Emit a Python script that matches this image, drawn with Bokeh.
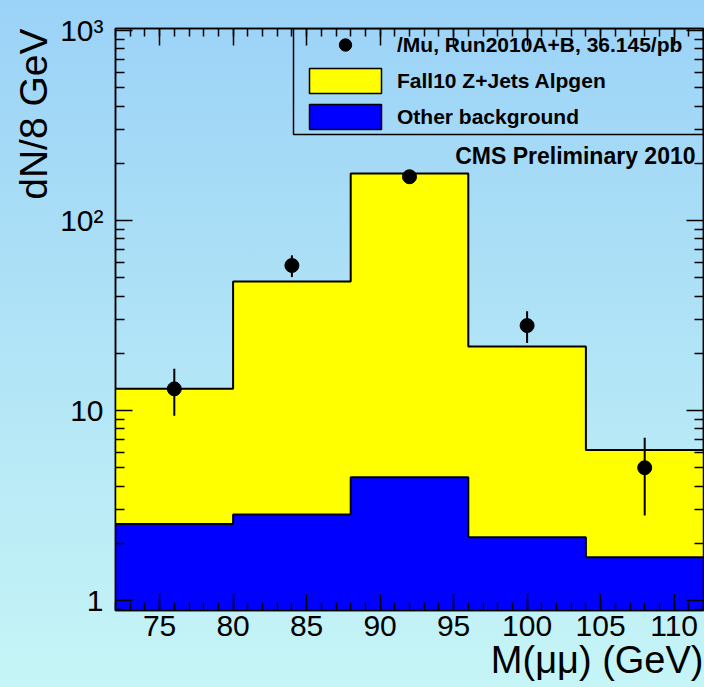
import math
from bokeh.plotting import figure
from bokeh.models import (Range1d, LogAxis, LinearAxis, FixedTicker, Label, Legend,
                          LegendItem, BoxAnnotation, CustomJSTickFormatter, Title)
from bokeh.embed import file_html
from bokeh.resources import INLINE

# ---- data ----
bin_edges = [72, 80, 88, 96, 104, 112]
zjets_total = [13.0, 47.7, 177.0, 21.7, 6.2]     # stacked top (Z+jets + other)
other_bkg = [2.53, 2.84, 4.46, 2.15, 1.69]
data_x = [76, 84, 92, 100, 108]
data_y = [13, 58, 170, 28, 5]
data_err = [3.6, 7.6, 13.0, 5.3, 2.2]

x_major = [75, 80, 85, 90, 95, 100, 105, 110]
y_major = [1, 10, 100, 1000]
y_labels = {1: "1", 10: "10", 100: "10\u00b2", 1000: "10\u00b3"}

FONT = "Liberation Sans"
YMIN, YMAX = 0.886, 1025

p = figure(width=704, height=687, x_range=Range1d(72, 112), y_range=Range1d(YMIN, YMAX),
           y_axis_type="log", output_backend="svg", toolbar_location=None,
           min_border_left=115, min_border_right=1, min_border_top=28, min_border_bottom=77,
           background_fill_color=None, border_fill_color=None)
p.styles = {"background": "linear-gradient(to bottom, #9bd2f7 0%, #c6f5f6 100%)"}
p.xgrid.visible = False
p.ygrid.visible = False
p.outline_line_color = "black"
p.outline_line_width = 1.5

x_minor = list(range(72, 113))
y_minor = [0.9] + [m * 10 ** k for k in range(0, 3) for m in range(2, 10)]

def style(ax, show_labels=True, major=17, minor=9):
    ax.axis_line_color = "black"
    ax.axis_line_width = 1.5
    ax.major_tick_line_color = "black"
    ax.minor_tick_line_color = "black"
    ax.major_tick_line_width = 1.5
    ax.minor_tick_line_width = 1.5
    ax.major_tick_in = major
    ax.major_tick_out = 0
    ax.minor_tick_in = minor
    ax.minor_tick_out = 0
    ax.major_label_text_font = FONT
    ax.major_label_text_color = "black"
    ax.major_label_text_font_size = "30px"
    if not show_labels:
        ax.formatter = CustomJSTickFormatter(code="return ''")
        ax.major_label_standoff = 0

p.xaxis[0].ticker = FixedTicker(ticks=x_major, minor_ticks=x_minor)
style(p.xaxis[0], True, 17, 8)
p.xaxis[0].major_label_standoff = 5
p.yaxis[0].ticker = FixedTicker(ticks=y_major, minor_ticks=y_minor)
style(p.yaxis[0], True, 17, 9)
p.yaxis[0].major_label_overrides = y_labels
p.yaxis[0].major_label_standoff = 12

top_ax = LinearAxis(ticker=FixedTicker(ticks=x_major, minor_ticks=x_minor))
style(top_ax, False, 17, 8)
p.add_layout(top_ax, "above")
right_ax = LogAxis(ticker=FixedTicker(ticks=y_major, minor_ticks=y_minor))
style(right_ax, False, 17, 9)
p.add_layout(right_ax, "right")

# axis titles
p.add_layout(Title(text="M(\u03bc\u03bc) (GeV)", align="right", text_font=FONT,
                   text_font_size="38px", text_font_style="normal", text_color="black",
                   standoff=-4), "below")
p.add_layout(Title(text="dN/8 GeV", align="right", text_font=FONT,
                   text_font_size="39px", text_font_style="normal", text_color="black",
                   standoff=6), "left")

# ---- histograms ----
floor = [0.5] * len(bin_edges)
tot_ext = zjets_total + [zjets_total[-1]]
oth_ext = other_bkg + [other_bkg[-1]]
p.varea_step(x=bin_edges, y1=floor, y2=tot_ext, step_mode="after", fill_color="#ffff00")
p.step(x=bin_edges, y=tot_ext, mode="after", line_color="black", line_width=2)
p.varea_step(x=bin_edges, y1=floor, y2=oth_ext, step_mode="after", fill_color="#0000ff")
p.step(x=bin_edges, y=oth_ext, mode="after", line_color="black", line_width=2)

# ---- data points ----
lo = [y - e for y, e in zip(data_y, data_err)]
hi = [y + e for y, e in zip(data_y, data_err)]
p.segment(x0=data_x, y0=lo, x1=data_x, y1=hi, line_color="black", line_width=2)
pts = p.scatter(x=data_x, y=data_y, size=14, fill_color="black", line_color="black")

# legend swatches (off-range renderers carrying the swatch style)
sw_y = p.quad(left=[60], right=[61], bottom=[1], top=[2], fill_color="#ffff00",
              line_color="black", line_width=1.5)
sw_b = p.quad(left=[60], right=[61], bottom=[1], top=[2], fill_color="#0000ff",
              line_color="black", line_width=1.5)

legend = Legend(items=[LegendItem(label="/Mu, Run2010A+B, 36.145/pb", renderers=[pts]),
                       LegendItem(label="Fall10 Z+Jets Alpgen", renderers=[sw_y]),
                       LegendItem(label="Other background", renderers=[sw_b])],
                location=(185, 478), padding=5, spacing=5, glyph_width=90, glyph_height=31,
                label_standoff=7, label_text_font=FONT, label_text_font_style="bold",
                label_text_font_size="21px", label_text_color="black",
                border_line_color=None, background_fill_alpha=0)
p.add_layout(legend)

box_left = 72 + (293 - 115) / 14.7
box_bottom = 10 ** ((600 - 134) / 190)
p.add_layout(BoxAnnotation(left=box_left, bottom=box_bottom, right=112, top=YMAX, fill_alpha=0,
                           line_color="black", line_alpha=1.0, line_width=1.5))

p.add_layout(Label(x=112, y=202, x_offset=-8, y_offset=7, text="CMS Preliminary 2010",
                   text_font=FONT, text_font_style="bold", text_font_size="23px",
                   text_align="right", text_baseline="alphabetic", text_color="black"))

open("out.html", "w").write(file_html(p, INLINE))
